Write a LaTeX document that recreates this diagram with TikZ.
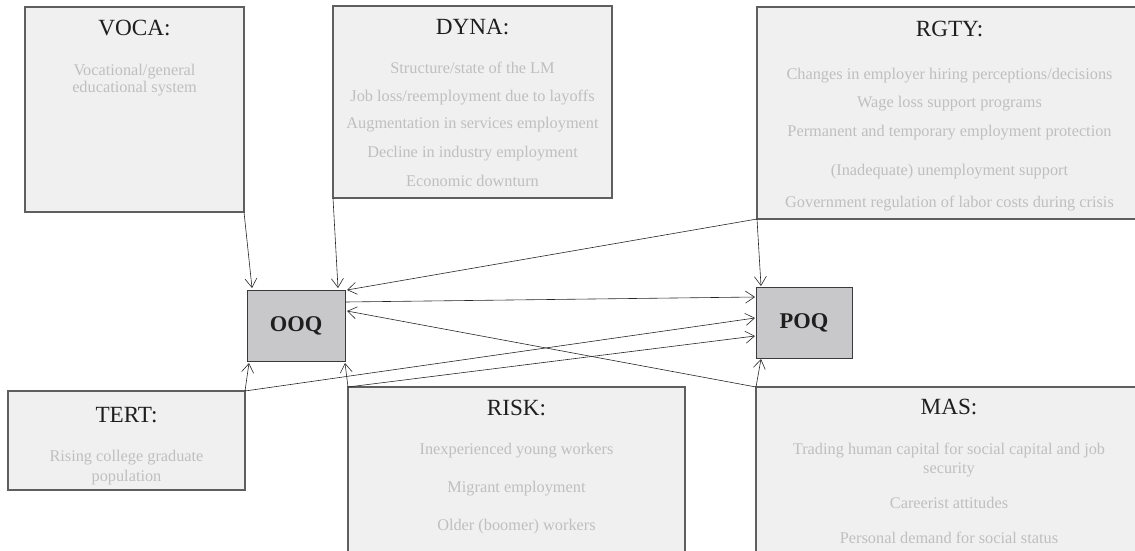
\documentclass[tikz,border=0pt]{standalone}
\usepackage{fontspec}
\setmainfont{Liberation Serif}
\usetikzlibrary{arrows.meta,calc}
\definecolor{boxfill}{HTML}{F0F0F0}
\definecolor{boxline}{HTML}{5F5F5F}
\definecolor{itemtext}{HTML}{BFBFBF}
\definecolor{titletext}{HTML}{1E1E1E}
\definecolor{keyfill}{HTML}{C8C8CA}
\definecolor{keyline}{HTML}{3A3A3A}
\begin{document}
\begin{tikzpicture}[x=1pt,y=-1pt,
  factor/.style={draw=boxline, line width=1.1pt, fill=boxfill, inner sep=0pt, outer sep=0pt},
  key/.style={draw=keyline, line width=1pt, fill=keyfill, inner sep=0pt, outer sep=0pt,
    font=\fontsize{22.5}{24}\selectfont\bfseries, text=titletext},
  title/.style={anchor=base, font=\fontsize{23.2}{25}\selectfont, text=titletext, inner sep=0pt},
  item/.style={anchor=base, font=\fontsize{16.3}{18}\selectfont, text=itemtext, inner sep=0pt},
  wrapitem/.style={anchor=north, text=itemtext, inner sep=0pt, align=center},
  link/.style={draw=black!85, line width=0.6pt, -{Straight Barb[length=9pt,width=12pt]}}]
\useasboundingbox (0,0) rectangle (1135,550);
\clip (0,0) rectangle (1135,550);

% factor boxes
\node[factor, minimum width=219pt, minimum height=205pt] (voca) at (134.5,109.5) {};
\node[factor, minimum width=279pt, minimum height=192pt] (dyna) at (472.5,102) {};
\node[factor, minimum width=385pt, minimum height=212pt] (rgty) at (949.5,113) {};
\node[factor, minimum width=237pt, minimum height=99pt] (tert) at (126.5,440.5) {};
\node[factor, minimum width=337pt, minimum height=173pt] (risk) at (516.5,473.5) {};
\node[factor, minimum width=386pt, minimum height=173pt] (mas) at (949,473.5) {};

% key boxes
\node[key, minimum width=98pt, minimum height=71pt] (ooq) at (296,325.5) {OOQ};
\node[key, minimum width=96pt, minimum height=71pt] (poq) at (804,322.5) {POQ};

% titles
\node[title] (vocat) at (134.5,35) {VOCA:};
\node[title] (dynat) at (472.5,34) {DYNA:};
\node[title] (rgtyt) at (949.5,36) {RGTY:};
\node[title] (tertt) at (126.5,422) {TERT:};
\node[title] (riskt) at (516.5,415) {RISK:};
\node[title] (mast) at (949,414) {MAS:};

% items
\node[wrapitem, font=\fontsize{16.3}{17}\selectfont] (voca1) at (134.5,64) {Vocational/general\\educational system};

\node[item] (dyna1) at (472.5,73) {Structure/state of the LM};
\node[item] (dyna2) at (472.5,101) {Job loss/reemployment due to layoffs};
\node[item] (dyna3) at (472.5,128) {Augmentation in services employment};
\node[item] (dyna4) at (472.5,157) {Decline in industry employment};
\node[item] (dyna5) at (472.5,186) {Economic downturn};

\node[item] (rgty1) at (949.5,79) {Changes in employer hiring perceptions/decisions};
\node[item] (rgty2) at (949.5,107) {Wage loss support programs};
\node[item] (rgty3) at (949.5,136) {Permanent and temporary employment protection};
\node[item] (rgty4) at (949.5,175) {(Inadequate) unemployment support};
\node[item] (rgty5) at (949.5,207) {Government regulation of labor costs during crisis};

\node[wrapitem, font=\fontsize{16.3}{20}\selectfont] (tert1) at (126.5,449.8) {Rising college graduate\\population};

\node[item] (risk1) at (516.5,454) {Inexperienced young workers};
\node[item] (risk2) at (516.5,492) {Migrant employment};
\node[item] (risk3) at (516.5,530) {Older (boomer) workers};

\node[wrapitem, font=\fontsize{16.3}{19}\selectfont] (mas1) at (949,442.8) {Trading human capital for social capital and job\\security};
\node[item] (mas2) at (949,508) {Careerist attitudes};
\node[item] (mas3) at (949,543) {Personal demand for social status};

% connectors
\draw[link] (voca.south east) -- ($(ooq.north west)+(5,-2)$);
\draw[link] (dyna.south west) -- ($(ooq.north east)+(-7,-2)$);
\draw[link] (rgty.south west) -- ($(ooq.north east)+(2,0)$);
\draw[link] (rgty.south west) -- ($(poq.north west)+(5,-1)$);
\draw[link] ($(ooq.north east)+(0,12)$) -- ($(poq.north west)+(-1,10)$);
\draw[link] (mas.north west) -- ($(ooq.north east)+(2,21)$);
\draw[link] (tert.north east) -- ($(poq.north west)+(-1,31)$);
\draw[link] (risk.north west) -- ($(poq.north west)+(-1,49)$);
\draw[link] (tert.north east) -- ($(ooq.south west)+(2,2)$);
\draw[link] (risk.north west) -- ($(ooq.south east)+(0,2)$);
\draw[link] (mas.north west) -- ($(poq.south west)+(5,1)$);
\end{tikzpicture}
\end{document}
